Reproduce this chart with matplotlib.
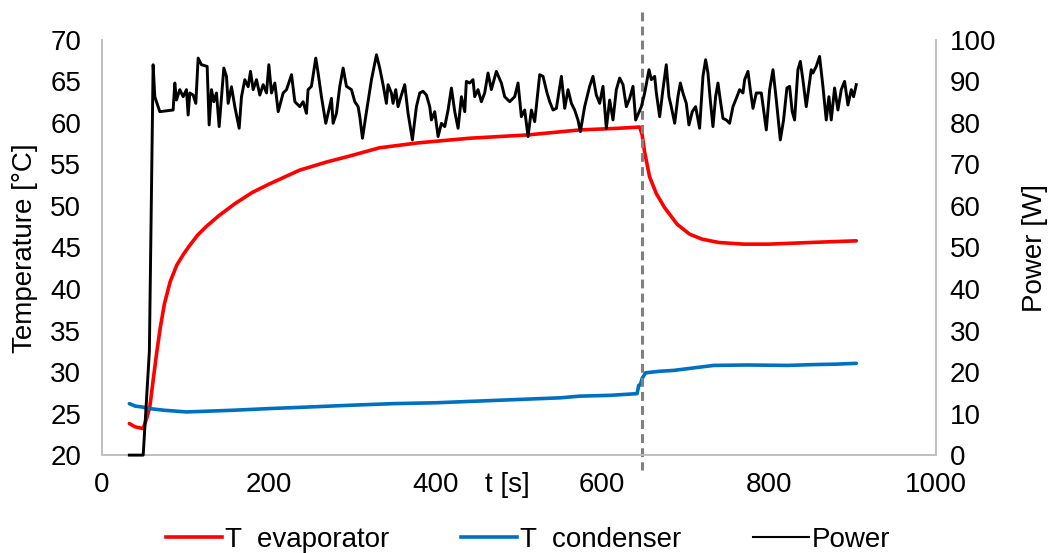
import matplotlib
matplotlib.use("Agg")
import matplotlib.pyplot as plt
from matplotlib.lines import Line2D
import matplotlib.transforms as mtransforms

plt.rcParams['font.family'] = ['Liberation Sans', 'DejaVu Sans']

# T evaporator [°C]
evap_t = [33, 40, 49.6, 54, 57.5, 61.5, 66, 70, 75, 82, 90, 98, 105, 115, 125, 140,
          160, 180, 200, 237, 270, 297, 333, 380, 441, 511, 573, 620, 645,
          648, 651, 657, 665, 675, 690, 705, 720, 740, 770, 800, 850, 905]
evap_T = [23.8, 23.4, 23.2, 24.5, 25.8, 29.0, 32.5, 35.3, 38.2, 40.9, 42.9, 44.2, 45.2, 46.5, 47.5, 48.8,
          50.3, 51.6, 52.6, 54.3, 55.3, 56.0, 57.0, 57.6, 58.15, 58.55, 59.15, 59.35, 59.5,
          58.6, 56.5, 53.5, 51.5, 49.8, 47.8, 46.6, 46.0, 45.6, 45.4, 45.4, 45.6, 45.8]

# T condenser [°C]
cond_t = [33, 40, 48, 57.5, 75, 101.5, 130, 157, 200, 250, 297, 350, 400, 450, 500, 550,
          573, 610, 642, 644, 646, 648, 652, 660, 670, 686, 710, 734, 774, 822, 854, 880, 905]
cond_T = [26.2, 25.9, 25.8, 25.6, 25.4, 25.2, 25.3, 25.4, 25.6, 25.8, 26.0, 26.2, 26.3, 26.5, 26.7, 26.9,
          27.1, 27.2, 27.4, 28.4, 28.5, 29.2, 29.9, 30.0, 30.1, 30.2, 30.5, 30.8, 30.85, 30.8, 30.9, 30.95, 31.05]

# Power [W]
power_t = [33, 49.6, 57, 61.5, 63.5, 67.5, 69.5, 85.5, 87.5, 89.5, 93.5, 97.5,
           101.5, 103.5, 105.5, 109.5, 112.7, 115.5, 119.5, 126.3, 128.7, 131.5, 134.3, 137.5,
           140.7, 143.5, 146.3, 149.5, 151.5, 155.5, 159.5, 164.7, 167.5, 171.5, 175.5, 178.3,
           181.5, 185.5, 189.5, 193.5, 197.5, 200.3, 203.5, 207.5, 211.5, 217.5, 221.5, 227.5,
           231.5, 237.4, 241.4, 245.4, 247.4, 251.4, 256.6, 259.4, 263.4, 268.6, 271.4, 275.4,
           277.4, 281.4, 285.4, 289.4, 293.4, 299.4, 303.4, 307.4, 309.4, 312.6, 317.4, 323.4,
           329.4, 333.3, 337.3, 341.3, 343.3, 347.3, 349.3, 352.5, 355.3, 359.3, 363.3, 367.3,
           372.5, 377.3, 381.3, 385.3, 389.3, 393.3, 395.3, 399.3, 403.3, 407.3, 411.3, 415.3,
           419.3, 423.3, 427.3, 431.3, 435.3, 437.2, 441.2, 445.2, 447.2, 451.2, 455.2, 459.2,
           463.2, 467.2, 473.2, 479.2, 483.2, 489.2, 495.2, 499.2, 503.2, 507.2, 511.2, 515.2,
           519.2, 525.2, 529.2, 534.0, 537.2, 541.2, 545.2, 551.2, 555.2, 559.2, 563.2, 567.1,
           571.1, 574.0, 579.1, 585.1, 589.1, 593.1, 597.1, 601.1, 605.1, 609.1, 613.1, 617.1,
           621.1, 625.1, 629.1, 633.1, 637.1, 640.3, 647.1, 651.1, 656.3, 659.1, 663.1, 665.1,
           669.1, 673.0, 677.0, 680.2, 683.0, 687.1, 691.0, 693.9, 697.0, 701.0, 704.2, 708.2,
           712.2, 717.0, 721.0, 724.2, 727.0, 729.8, 733.0, 736.2, 739.0, 741.8, 745.0, 749.0,
           753.0, 757.0, 761.0, 765.0, 769.0, 771.0, 775.0, 777.8, 781.0, 785.0, 791.0, 797.0,
           801.0, 805.0, 809.0, 813.8, 817.7, 821.7, 824.9, 828.1, 830.9, 834.9, 837.8, 840.9,
           844.9, 850.9, 852.9, 856.9, 860.9, 864.9, 868.9, 872.1, 874.9, 878.9, 882.9, 886.9,
           890.9, 894.9, 898.9, 901.7, 904.9]
power_w = [0, 0, 25, 94.0, 86.3, 83.9, 82.7, 83.1, 89.6, 85.5, 88.0, 86.3,
           88.0, 81.9, 87.2, 86.7, 84.7, 95.6, 94.0, 93.6, 79.5, 88.0, 85.1, 87.2,
           79.1, 86.3, 93.2, 91.2, 84.7, 88.7, 83.9, 78.7, 86.3, 90.4, 88.7, 92.4,
           88.0, 90.4, 86.7, 89.2, 87.2, 94.0, 87.2, 89.6, 82.7, 87.2, 88.0, 91.6,
           85.1, 83.9, 85.1, 82.3, 88.0, 88.8, 95.6, 92.0, 86.3, 79.9, 82.3, 85.9,
           79.9, 82.3, 88.8, 93.2, 88.8, 88.0, 85.1, 83.9, 81.5, 76.3, 82.7, 90.4,
           96.4, 93.2, 89.2, 84.7, 89.2, 87.2, 84.7, 88.0, 83.9, 86.7, 89.2, 82.3,
           75.9, 83.9, 87.2, 87.6, 86.7, 83.9, 80.7, 82.7, 76.7, 79.9, 79.1, 83.1,
           88.4, 82.7, 78.7, 86.3, 82.7, 90.0, 89.6, 90.4, 86.3, 88.0, 85.1, 87.2,
           92.0, 88.0, 92.4, 89.6, 86.3, 85.1, 86.3, 89.6, 81.5, 83.1, 76.7, 83.1,
           80.3, 91.6, 91.2, 87.2, 85.1, 83.1, 83.5, 91.2, 83.5, 88.0, 84.7, 83.1,
           80.7, 77.9, 83.9, 88.8, 91.2, 86.7, 84.7, 88.8, 78.7, 85.5, 80.7, 88.0,
           90.8, 89.2, 83.9, 85.9, 88.8, 80.7, 83.9, 87.2, 92.8, 90.4, 91.2, 87.2,
           81.5, 88.0, 94.0, 86.3, 83.9, 79.9, 86.3, 89.6, 87.2, 84.7, 79.5, 82.7,
           83.9, 78.7, 91.2, 95.2, 92.0, 85.5, 79.1, 86.3, 89.6, 85.5, 81.1, 80.7,
           79.9, 83.9, 85.9, 88.0, 87.2, 90.4, 92.4, 88.0, 83.5, 87.2, 87.2, 78.3,
           88.0, 92.8, 85.5, 75.9, 80.7, 88.4, 88.8, 82.7, 80.7, 92.8, 94.8, 90.4,
           83.9, 92.8, 92.0, 93.6, 96.0, 88.8, 80.7, 86.3, 80.7, 88.4, 83.1, 88.0,
           90.0, 84.3, 88.0, 86.3, 89.2]

switch_t = 648

x_ticks = [0, 200, 400, 600, 800, 1000]
temp_ticks = [20, 25, 30, 35, 40, 45, 50, 55, 60, 65, 70]
power_ticks = [0, 10, 20, 30, 40, 50, 60, 70, 80, 90, 100]

red = '#FF0000'
blue = '#0070C0'
grey = '#BFBFBF'
fs = 20

fig = plt.figure(figsize=(10.5, 5.53), dpi=100)
ax = fig.add_axes([0.097, 0.177, 0.794, 0.751])
ax.plot(evap_t, evap_T, color=red, lw=2.6, solid_capstyle='round')
ax.plot(cond_t, cond_T, color=blue, lw=2.6, solid_capstyle='round')
ax.set_xlim(0, 1000)
ax.set_ylim(20, 70)
ax.set_xticks(x_ticks)
ax.set_yticks(temp_ticks)

ax2 = ax.twinx()
ax2.plot(power_t, power_w, color='black', lw=2.1, clip_on=False, zorder=3)
ax2.set_ylim(0, 100)
ax2.set_yticks(power_ticks)

# vertical dashed marker, extends past the plot area
ax2.plot([switch_t, switch_t], [106.7, -3.6], color='#808080', lw=2.2,
         dashes=(2.9, 1.7), clip_on=False, zorder=1)

for a in (ax, ax2):
    a.spines['top'].set_visible(False)
    for s in ('left', 'right', 'bottom'):
        a.spines[s].set_color(grey)
        a.spines[s].set_linewidth(1.2)
ax.tick_params(axis='both', length=0, labelsize=fs)
ax.tick_params(axis='y', pad=15)
ax.tick_params(axis='x', pad=12)
ax2.tick_params(axis='y', length=0, labelsize=fs, pad=10)

fig.text(0.024, 0.552, 'Temperature [°C]', rotation=90, ha='center', va='center', fontsize=fs)
fig.text(0.986, 0.552, 'Power [W]', rotation=90, ha='center', va='center', fontsize=fs)

trans = mtransforms.blended_transform_factory(ax.transData, ax.transAxes)
ax.text(486, -0.072, 't [s]', transform=trans, ha='center', va='center', fontsize=fs)

handles = [Line2D([], [], color=red, lw=2.6),
           Line2D([], [], color=blue, lw=2.6),
           Line2D([], [], color='black', lw=1.5)]
labels = ['T  evaporator', 'T  condenser', 'Power']
fig.legend(handles, labels, loc='center', bbox_to_anchor=(0.503, 0.024), ncol=3,
           frameon=False, fontsize=fs, handlelength=2.0, handletextpad=0.1,
           columnspacing=2.6, borderaxespad=0)

fig.savefig('out.png', dpi=100)
